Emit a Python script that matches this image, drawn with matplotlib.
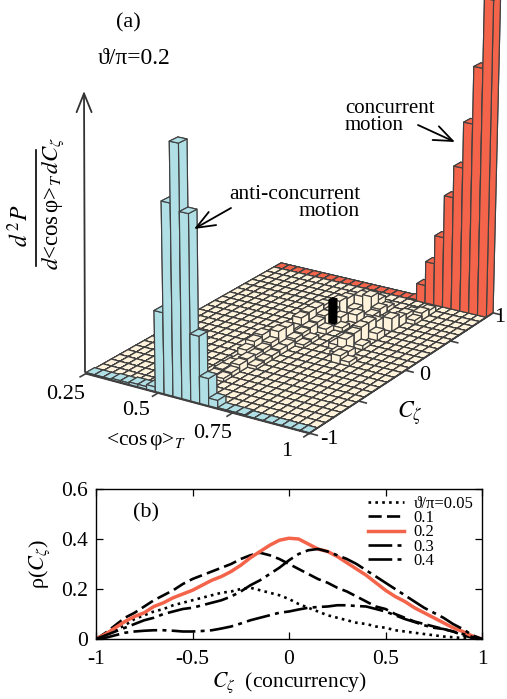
"""plot.py
3D histogram (a) and concurrency distribution curves (b).
"""
import numpy as np
import matplotlib
matplotlib.use("Agg")
import matplotlib.pyplot as plt
from matplotlib.lines import Line2D
from matplotlib.patches import FancyArrowPatch

plt.rcParams["font.family"] = ["Liberation Serif", "DejaVu Serif"]
plt.rcParams["mathtext.fontset"] = "stix"
plt.rcParams["axes.unicode_minus"] = False

W, H = 507, 699

# ── Panel (a) data ────────────────────────────────────────────────────────────
N_BINS = 25
x_edges = np.linspace(0.25, 1.0, N_BINS + 1)
c_edges = np.linspace(-1.0, 1.0, N_BINS + 1)

# heights of the C=-1 row (blue) and the C=1 row (red), arbitrary units
blue_heights = [1, 1, 1, 2, 2, 3, 3, 5, 80, 187, 245, 181, 66, 27, 8,
                1, 1, 1, 0, 0, 0, 0, 0, 0, 0]
red_heights = [0, 0, 0, 0, 0, 0, 0, 0, 0, 0, 0, 0, 0, 0, 0, 0, 1,
               18, 43, 72, 115, 147, 193, 250, 318]

# central ridges: bin index along <cos phi>, bin index along C, height
bump_i = [10, 10, 11, 10, 11, 10, 11, 10, 11, 12, 10, 11, 12, 10, 11, 12, 10, 11, 12,
          11, 12, 11, 12, 13, 11, 12, 13, 11, 12, 11, 12, 13, 11, 12, 13, 14, 11, 12, 13,
          12, 14, 12, 13, 15, 13, 14, 15, 14, 15,
          18, 17, 17, 16, 17, 18, 17, 16, 17, 18, 17, 16, 18, 17, 18, 18, 19, 18, 19, 19,
          18, 19]
bump_j = [3, 4, 4, 5, 5, 6, 6, 7, 7, 7, 8, 8, 8, 9, 9, 9, 10, 10, 10,
          11, 11, 12, 12, 12, 13, 13, 13, 14, 14, 15, 15, 15, 16, 16, 16, 16, 17, 17, 17,
          18, 18, 19, 19, 19, 20, 20, 20, 21, 21,
          12, 12, 13, 13, 14, 14, 15, 15, 16, 16, 17, 17, 18, 18, 19, 20, 20, 21, 21, 22,
          11, 11]
bump_h = [3, 4, 3, 5, 4, 5, 7, 4, 8, 3, 10, 7, 4, 14, 8, 4, 16, 10, 5,
          17, 5, 16, 7, 3, 10, 8, 4, 17, 9, 18, 10, 5, 18, 12, 7, 4, 16, 12, 8,
          18, 8, 16, 7, 5, 16, 18, 7, 10, 4,
          7, 4, 13, 5, 14, 4, 16, 7, 16, 7, 12, 7, 13, 8, 9, 8, 4, 5, 7, 5,
          8, 4]

# single dark column in the middle of the plane
black_i, black_j, black_h = 13, 16, 28

x_ticks_a = [0.25, 0.5, 0.75, 1.0]
c_ticks_a = [-1.0, -0.5, 0.0, 0.5, 1.0]

# ── Panel (b) data ────────────────────────────────────────────────────────────
c_vals = np.round(np.arange(-1.0, 1.001, 0.05), 2)
rho_005 = [0, .015, .035, .055, .08, .095, .11, .12, .135, .145, .155, .165, .175, .185,
           .19, .20, .205, .195, .185, .175, .16, .14, .125, .11, .095, .085, .075, .065,
           .06, .05, .045, .035, .03, .025, .02, .015, .01, .007, .004, .002, 0]
rho_01 = [0, .025, .055, .085, .105, .13, .155, .175, .195, .22, .24, .255, .27, .285,
          .30, .32, .335, .345, .335, .32, .30, .28, .26, .24, .225, .205, .19, .17,
          .15, .13, .12, .10, .085, .07, .06, .05, .04, .03, .015, .005, 0]
rho_02 = [0, .02, .045, .07, .09, .105, .13, .145, .165, .18, .195, .215, .235, .25,
          .27, .295, .325, .35, .375, .395, .403, .40, .38, .36, .35, .33, .305, .28,
          .255, .225, .195, .17, .15, .125, .105, .085, .065, .045, .03, .012, 0]
rho_03 = [0, .015, .03, .045, .06, .075, .085, .10, .11, .12, .125, .135, .145, .155,
          .17, .19, .215, .235, .26, .285, .315, .34, .355, .36, .35, .335, .32, .30,
          .275, .25, .225, .20, .175, .15, .125, .105, .085, .06, .04, .015, 0]
rho_04 = [0, .005, .015, .025, .03, .033, .035, .035, .033, .03, .03, .032, .035, .042,
          .05, .062, .075, .085, .095, .105, .11, .118, .125, .128, .13, .135, .135, .132,
          .13, .12, .11, .095, .08, .068, .055, .045, .04, .03, .02, .008, 0]


def px(x, y):
    return x / W, 1 - y / H


def arrow(start, end, color="black", lw=1.3):
    fig.add_artist(FancyArrowPatch(px(*start), px(*end), transform=fig.transFigure,
                                   arrowstyle="->,head_length=0.75,head_width=0.3",
                                   mutation_scale=18, color=color, lw=lw,
                                   shrinkA=0, shrinkB=0))


fig = plt.figure(figsize=(W / 100, H / 100), dpi=100)
fig.patch.set_facecolor("white")

# ── (a) 3D histogram ──────────────────────────────────────────────────────────
CREAM, BLUE, RED = "#FFF3DC", "#B0E0E6", "#F4644A"
EDGE = "#404040"

ax3 = fig.add_axes([15 / W, 1 - (192 + 272) / H, 544 / W, 544 / H], projection="3d")
ax3.set_proj_type("persp", focal_length=1.05)
ax3.view_init(elev=20, azim=-57.3)
ax3.set_box_aspect((250, 339, 325))
ax3.set_axis_off()
ax3.patch.set_visible(False)
ax3.computed_zorder = False

heights = np.zeros((N_BINS, N_BINS))
heights[:, 0] = blue_heights
heights[:, -1] = red_heights
for i, j, h in zip(bump_i, bump_j, bump_h):
    heights[i, j] = h
heights[black_i, black_j] = 0

colors = np.full((N_BINS, N_BINS), CREAM, dtype=object)
colors[:, 0] = BLUE
colors[:, -1] = RED

dx = x_edges[1] - x_edges[0]
dc = c_edges[1] - c_edges[0]
ii, jj = np.meshgrid(np.arange(N_BINS), np.arange(N_BINS), indexing="ij")
ii, jj = ii.ravel(), jj.ravel()
flat = heights[ii, jj] == 0
ax3.bar3d(x_edges[ii[flat]], c_edges[jj[flat]], 0, dx, dc, 0.1,
          color=list(colors[ii[flat], jj[flat]]), shade=False,
          edgecolor=EDGE, linewidth=0.85, zorder=1)

# raised columns one by one, back to front
raised = np.flatnonzero(~flat)
order = raised[np.argsort(ii[raised] * 0.54 * 255 - jj[raised] * 0.84 * 339)]
for k, idx in enumerate(order):
    i, j = ii[idx], jj[idx]
    ax3.bar3d(x_edges[i], c_edges[j], 0, dx, dc, heights[i, j],
              color=colors[i, j], shade=False,
              edgecolor=EDGE, linewidth=0.85, zorder=2 + k)
    if (i, j) == (black_i - 1, black_j):
        ax3.bar3d(x_edges[black_i] + dx * 0.25, c_edges[black_j] + dc * 0.25, 0,
                  dx * 0.5, dc * 0.5, black_h, color="black", shade=False,
                  edgecolor="black", linewidth=0.5, zorder=2 + k)

top_z = len(order) + 10
ax3.plot([0.25, 1], [-1, -1], [0, 0], color=EDGE, lw=1.6, zorder=top_z)
ax3.plot([1, 1], [-1, 1], [0, 0], color=EDGE, lw=1.3, zorder=top_z)
for xt in x_ticks_a:
    ax3.plot([xt, xt], [-1, -1.055], [0, 0], color=EDGE, lw=1.2, zorder=top_z)
for ct in c_ticks_a:
    ax3.plot([1, 1.025], [ct, ct], [0, 0], color=EDGE, lw=1.2, zorder=top_z)

ax3.set_xlim(0.25, 1, view_margin=0)
ax3.set_ylim(-1, 1, view_margin=0)
ax3.set_zlim(0, 317, view_margin=0)

# vertical axis and annotation arrows
arrow((85, 372), (84, 91), color="#333333")
arrow((418, 125), (455, 142))
arrow((231, 208), (194, 229))

FS = 16
fig.text(*px(128, 23), "(a)", fontsize=16, ha="center", va="center")
fig.text(*px(134, 58), "ϑ/π=0.2", fontsize=17, ha="center", va="center")

# fraction on the vertical axis
fig.text(*px(20, 226), r"$d^{\,2}P$", fontsize=17, rotation=90, ha="center", va="center")
fig.add_artist(Line2D([px(36, 150)[0], px(36, 266)[0]], [px(36, 150)[1], px(36, 266)[1]],
                      color="black", lw=1.2))
fig.text(*px(53, 204), r"$d$<cos$\,$φ>$_T\,dC_\zeta$", fontsize=16.5, rotation=90,
         ha="center", va="center")

fig.text(*px(345, 117), "concurrent\nmotion", fontsize=15, ha="left", va="center",
         linespacing=0.92)
fig.text(*px(360, 203), "anti-concurrent\nmotion", fontsize=15.5, ha="right", va="center",
         multialignment="right", linespacing=0.8)

for label, (tx, ty) in zip(["0.25", "0.5", "0.75", "1"],
                           [(66, 395), (136, 410), (213, 433), (287, 452)]):
    fig.text(*px(tx, ty), label, fontsize=FS, ha="center", va="center")
for label, (tx, ty) in zip(["-1", "0", "1"], [(329, 440), (425, 375), (500, 317)]):
    fig.text(*px(tx, ty), label, fontsize=FS, ha="center", va="center")
fig.text(*px(146, 441), r"<cos$\,$φ>$_{T}$", fontsize=15.5, ha="center", va="center")
fig.text(*px(410, 413), r"$C_\zeta$", fontsize=17, ha="center", va="center")

# ── (b) curves ────────────────────────────────────────────────────────────────
ax_b = fig.add_axes([96 / W, 1 - 639 / H, 386 / W, 150 / H])
line_kw = dict(color="black", lw=1.9)
ax_b.plot(c_vals, rho_005, ls=(0, (1, 1.6)), label="ϑ/π=0.05", **line_kw)
ax_b.plot(c_vals, rho_01, ls=(0, (5, 2)), label="0.1", **line_kw)
ax_b.plot(c_vals, rho_02, color=RED, lw=2.5, label="0.2")
ax_b.plot(c_vals, rho_03, ls=(0, (9, 2, 1.5, 2)), label="0.3", **line_kw)
ax_b.plot(c_vals, rho_04, ls=(0, (9, 2, 1.5, 2)), label="0.4", **line_kw)

ax_b.set_xlim(-1, 1)
ax_b.set_ylim(0, 0.6)
ax_b.set_xticks([-1, -0.5, 0, 0.5, 1], ["-1", "-0.5", "0", "0.5", "1"])
ax_b.set_yticks([0, 0.2, 0.4, 0.6], ["0", "0.2", "0.4", "0.6"])
ax_b.tick_params(direction="in", top=True, right=True, length=5, width=0.9, labelsize=15.5)
ax_b.tick_params(axis="x", pad=8)
ax_b.tick_params(axis="y", pad=6)
for spine in ax_b.spines.values():
    spine.set_linewidth(1.0)
ax_b.set_xlabel(r"$C_\zeta$  (concurrency)", fontsize=15.5, labelpad=1)
ax_b.set_ylabel(r"ρ($C_\zeta$)", fontsize=16, labelpad=6)
ax_b.text(-0.81, 0.505, "(b)", fontsize=16, ha="left", va="center")
ax_b.legend(loc="upper right", frameon=False, fontsize=12, handlelength=2.2,
            labelspacing=-0.1, borderaxespad=0, handletextpad=0.55,
            bbox_to_anchor=(0.995, 1.0))

fig.savefig("out.png", dpi=100, facecolor="white")
